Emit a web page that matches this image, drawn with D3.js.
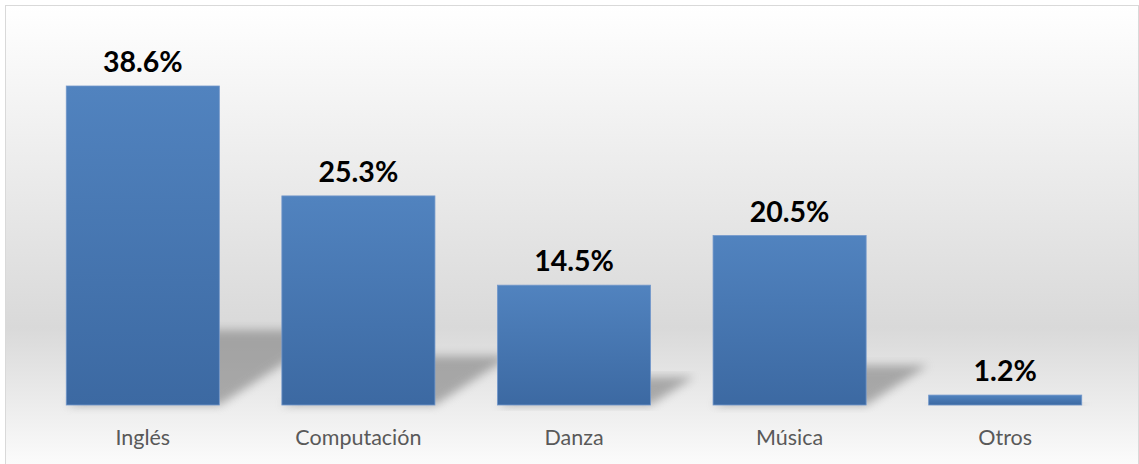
<!DOCTYPE html>
<meta charset="utf-8">
<script src="https://cdn.jsdelivr.net/npm/d3@7/dist/d3.min.js"></script>
<style>
  body { margin: 0; background: #fff; }
</style>
<svg width="1139" height="464"></svg>
<script>
// chart data
var categories = ["Inglés", "Computación", "Danza", "Música", "Otros"];
var values = [38.6, 25.3, 14.5, 20.5, 1.2];
var valueLabels = ["38.6%", "25.3%", "14.5%", "20.5%", "1.2%"];

var svg = d3.select("svg"),
  width = +svg.attr("width"),
  height = +svg.attr("height"),
  margin = { top: 86, right: 26, bottom: 59, left: 35 };

var baseY = height - margin.bottom;

var defs = svg.append("defs");

// background gradient
var bg = defs.append("linearGradient")
  .attr("id", "bg").attr("x1", 0).attr("y1", 0).attr("x2", 0).attr("y2", 1);
bg.append("stop").attr("offset", "0%").attr("stop-color", "#ffffff");
bg.append("stop").attr("offset", "68%").attr("stop-color", "#d9d9d9");
bg.append("stop").attr("offset", "100%").attr("stop-color", "#ffffff");

// bar gradient
var barGrad = defs.append("linearGradient")
  .attr("id", "barGrad").attr("x1", 0).attr("y1", 0).attr("x2", 0).attr("y2", 1);
barGrad.append("stop").attr("offset", "0%").attr("stop-color", "#5183bf");
barGrad.append("stop").attr("offset", "100%").attr("stop-color", "#3c69a2");

// shadow blur
defs.append("filter").attr("id", "blur")
  .attr("x", "-20%").attr("y", "-20%").attr("width", "140%").attr("height", "140%")
  .append("feGaussianBlur").attr("stdDeviation", 5);

svg.append("rect")
  .attr("x", 5.5).attr("y", 5.5)
  .attr("width", width - 6).attr("height", height + 10)
  .attr("fill", "url(#bg)")
  .attr("stroke", "#d9d9d9");

//Scales
var x = d3.scaleBand()
  .domain(categories)
  .range([margin.left, width - margin.right])
  .paddingInner(0.29)
  .paddingOuter(0.145);

var y = d3.scaleLinear()
  .domain([0, 38.6])
  .range([baseY, margin.top]);

var data = categories.map(function(c, i) {
  return { cat: c, value: values[i], label: valueLabels[i] };
});

//Perspective shadows
svg.append("g")
  .selectAll("path")
  .data(data)
  .enter()
  .append("path")
  .attr("d", function(d) {
    var x0 = x(d.cat), x1 = x0 + x.bandwidth();
    var sh = (baseY - y(d.value)) * 0.235;
    var dx = sh * 1.55;
    return "M" + x0 + "," + baseY + "L" + x1 + "," + baseY +
      "L" + (x1 + dx) + "," + (baseY - sh) + "L" + (x0 + dx) + "," + (baseY - sh) + "Z";
  })
  .attr("fill", "#858585")
  .attr("opacity", 0.65)
  .attr("filter", "url(#blur)");

//Bars
svg.append("g")
  .selectAll("rect")
  .data(data)
  .enter()
  .append("rect")
  .attr("x", function(d) { return x(d.cat); })
  .attr("y", function(d) { return y(d.value); })
  .attr("width", x.bandwidth())
  .attr("height", function(d) { return baseY - y(d.value); })
  .attr("fill", "url(#barGrad)")
  .attr("stroke", "#7297cb")
  .attr("stroke-width", 0.8);

//Value labels
svg.append("g")
  .selectAll("text")
  .data(data)
  .enter()
  .append("text")
  .attr("x", function(d) { return x(d.cat) + x.bandwidth() / 2; })
  .attr("y", function(d) { return y(d.value) - 14; })
  .attr("text-anchor", "middle")
  .style("font-family", "Lato, 'Open Sans', sans-serif")
  .style("font-weight", "bold")
  .style("font-size", "28.5px")
  .attr("fill", "#000")
  .text(function(d) { return d.label; });

//Category axis
var axis = svg.append("g")
  .attr("transform", "translate(0," + baseY + ")")
  .call(d3.axisBottom(x).tickSize(0).tickPadding(40));
axis.select(".domain").remove();
axis.selectAll("text")
  .style("font-family", "Lato, 'Open Sans', sans-serif")
  .style("font-size", "21.5px")
  .attr("fill", "#595959")
  .attr("dy", 0);
</script>
